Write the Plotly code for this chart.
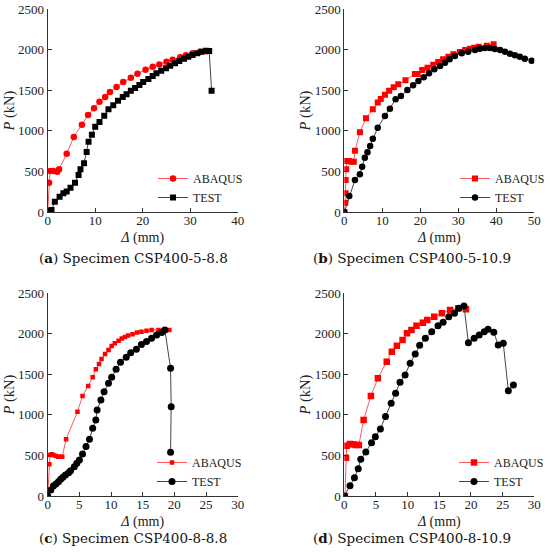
import plotly.graph_objects as go

# (a) Specimen CSP400-5-8.8
a_fem_x = [0, 0.28, 0.5, 1.2, 2.0, 2.4, 4.0, 5.5, 7.2, 8.5, 9.75, 10.9, 12.1, 13.1, 14.5, 15.9,
           17.5, 18.9, 20.6, 22.1, 23.5, 25.0, 26.3, 27.9, 29.1, 30.5, 32.1, 33.5]
a_fem_y = [0, 361, 505, 505, 497, 525, 718, 924, 1076, 1195, 1277, 1359, 1416, 1478, 1539, 1601,
           1654, 1704, 1753, 1790, 1818, 1851, 1876, 1905, 1929, 1954, 1974, 1980]
a_test_x = [0, 0.5, 0.8, 1.5, 2.5, 3.3, 4.0, 4.8, 5.75, 6.5, 6.9, 7.65, 8.2, 8.6, 9.3, 10.0, 10.9,
            11.9, 12.8, 13.8, 14.8, 15.8, 16.6, 17.5, 18.4, 19.3, 20.1, 21.2, 22.1, 22.9, 23.9,
            24.9, 25.8, 26.8, 27.7, 28.7, 29.6, 30.5, 31.5, 32.4, 33.3, 34.0, 34.5]
a_test_y = [0, 16, 25, 127, 189, 230, 254, 300, 361, 456, 525, 600, 739, 866, 952, 1051, 1108,
            1186, 1264, 1314, 1371, 1416, 1449, 1494, 1527, 1564, 1601, 1638, 1675, 1708, 1741,
            1770, 1802, 1831, 1860, 1888, 1913, 1933, 1954, 1974, 1987, 1983, 1494]

# (b) Specimen CSP400-5-10.9
b_fem_x = [0, 0.26, 0.35, 0.35, 0.5, 0.6, 1.2, 1.9, 2.5, 2.8, 4.1, 5.7, 7.5, 8.8, 9.6, 10.7,
           11.8, 13.0, 14.2, 16.1, 18.6, 19.3, 20.5, 21.9, 23.4, 24.7, 26.0, 27.4, 28.7, 30.4,
           31.8, 33.1, 34.2, 35.4, 37.5, 39.3]
b_fem_y = [0, 115, 230, 394, 525, 628, 628, 620, 620, 755, 981, 1154, 1264, 1347, 1392, 1445,
           1494, 1535, 1572, 1622, 1700, 1700, 1749, 1777, 1814, 1847, 1880, 1913, 1942, 1970,
           1995, 2011, 2024, 2036, 2048, 2065]
b_test_x = [0, 1.3, 2.8, 4.1, 4.7, 5.4, 6.1, 6.8, 7.5, 8.8, 10.7, 12.0, 13.5, 14.9, 16.6, 18.1,
            19.5, 20.9, 22.3, 23.7, 25.2, 26.5, 27.7, 29.1, 30.9, 32.6, 34.4, 35.7, 37.0, 38.3,
            39.6, 41.0, 42.3, 43.6, 44.9, 46.2, 47.5, 49.3]
b_test_y = [0, 197, 394, 464, 558, 669, 735, 813, 903, 1039, 1182, 1273, 1388, 1429, 1502, 1560,
            1613, 1658, 1708, 1757, 1798, 1839, 1880, 1921, 1954, 1974, 1995, 2011, 2020, 2020,
            2007, 1995, 1974, 1950, 1929, 1913, 1888, 1864]

# (c) Specimen CSP400-8-8.8
c_fem_x = [0, 0.26, 0.37, 0.63, 0.9, 1.3, 1.7, 2.1, 2.3, 2.9, 4.7, 5.5, 6.4, 7.1, 7.6, 8.1, 8.5,
           9.05, 9.6, 10.1, 10.6, 11.2, 11.7, 12.2, 12.7, 13.4, 14.1, 14.8, 15.6, 16.4, 17.5,
           18.3, 19.2]
c_fem_y = [0, 391, 506, 514, 506, 493, 485, 485, 485, 699, 1040, 1234, 1357, 1464, 1562, 1628,
           1690, 1752, 1801, 1850, 1883, 1916, 1941, 1961, 1978, 1994, 2015, 2027, 2039, 2048,
           2048, 2048, 2048]
c_test_x = [0, 0.5, 0.9, 1.3, 1.7, 2.05, 2.4, 2.8, 3.3, 3.6, 4.2, 4.6, 5.0, 5.5, 6.05, 6.6, 7.1,
            7.6, 7.8, 8.4, 8.9, 9.6, 10.1, 10.8, 11.5, 12.4, 13.1, 14.0, 14.8, 15.6, 16.4, 17.2,
            18.0, 18.5, 19.4, 19.5, 19.4]
c_test_y = [0, 74, 123, 148, 177, 206, 230, 259, 288, 312, 362, 403, 444, 518, 609, 699, 835,
            938, 1061, 1184, 1287, 1390, 1464, 1562, 1649, 1711, 1768, 1809, 1867, 1904, 1945,
            1986, 2015, 2048, 1575, 1102, 539]

# (d) Specimen CSP400-8-10.9
d_fem_x = [0.1, 0.26, 0.37, 0.9, 1.4, 1.8, 2.3, 3.05, 4.2, 5.3, 6.7, 7.5, 8.3, 9.2, 9.9, 10.6,
           11.4, 12.4, 13.1, 14.2, 15.4, 16.7, 18.0, 19.2]
d_fem_y = [0, 473, 621, 641, 637, 629, 629, 937, 1234, 1451, 1657, 1780, 1854, 1924, 2007, 2048,
           2101, 2138, 2171, 2212, 2253, 2294, 2315, 2303]
d_test_x = [0, 0.9, 1.6, 2.2, 2.6, 3.4, 4.3, 4.9, 5.7, 6.5, 7.4, 8.1, 8.8, 9.6, 10.4, 11.2, 11.9,
            12.8, 13.8, 14.8, 15.6, 16.5, 17.4, 18.1, 18.9, 19.6, 20.5, 21.3, 22.1, 22.7, 23.6,
            24.3, 25.1, 25.9, 26.7]
d_test_y = [0, 127, 226, 337, 452, 543, 658, 732, 827, 979, 1143, 1266, 1402, 1493, 1637, 1752,
            1859, 1945, 2027, 2101, 2142, 2212, 2253, 2315, 2344, 1891, 1945, 1986, 2027, 2056,
            2019, 1862, 1883, 1299, 1369]

captions = ['(<b>a</b>) Specimen CSP400-5-8.8', '(<b>b</b>) Specimen CSP400-5-10.9',
            '(<b>c</b>) Specimen CSP400-8-8.8', '(<b>d</b>) Specimen CSP400-8-10.9']

W, H = 550, 559
SERIF = 'Liberation Serif'


def px(x):
    return x / W


def py(y):
    return 1 - y / H


panels = [
    dict(fem=(a_fem_x, a_fem_y), test=(a_test_x, a_test_y), xr=[0, 40], dx=10,
         xpx=(47.7, 237.7), ypx=(9, 212), fsym='circle', fsize=6.5, tsym='square', tsize=6,
         leg=(153, 164), cap=(133, 258)),
    dict(fem=(b_fem_x, b_fem_y), test=(b_test_x, b_test_y), xr=[0, 50], dx=10,
         xpx=(344.3, 534.3), ypx=(9, 212), fsym='square', fsize=6, tsym='circle', tsize=6.5,
         leg=(455, 164), cap=(412, 258)),
    dict(fem=(c_fem_x, c_fem_y), test=(c_test_x, c_test_y), xr=[0, 30], dx=5,
         xpx=(47.7, 237.7), ypx=(293.3, 496), fsym='square', fsize=4.5, tsym='circle', tsize=7,
         leg=(152, 448), cap=(133, 538)),
    dict(fem=(d_fem_x, d_fem_y), test=(d_test_x, d_test_y), xr=[0, 30], dx=5,
         xpx=(344.3, 534.3), ypx=(293.3, 496), fsym='square', fsize=6.5, tsym='circle', tsize=7,
         leg=(454, 448), cap=(412, 538)),
]

fig = go.Figure()
layout = {}
annotations = []

for i, p in enumerate(panels):
    n = '' if i == 0 else str(i + 1)
    leg = 'legend' + n
    fig.add_trace(go.Scatter(x=p['fem'][0], y=p['fem'][1], mode='lines+markers', name='ABAQUS',
                             line=dict(color='#ff5a5a', width=1),
                             marker=dict(symbol=p['fsym'], size=p['fsize'], color='#ff0000'),
                             xaxis='x' + n, yaxis='y' + n, legend=leg))
    fig.add_trace(go.Scatter(x=p['test'][0], y=p['test'][1], mode='lines+markers', name='TEST',
                             line=dict(color='#444444', width=1),
                             marker=dict(symbol=p['tsym'], size=p['tsize'], color='#000000'),
                             xaxis='x' + n, yaxis='y' + n, legend=leg))

    x0, x1 = p['xpx']
    yt, yb = p['ypx']
    axis_common = dict(showgrid=False, zeroline=False, showline=True, linecolor='#333333',
                       linewidth=1, ticks='inside', ticklen=4, tickcolor='#333333',
                       automargin=False, ticklabeloverflow='allow',
                       tickfont=dict(family=SERIF, size=13, color='#222222'))
    layout['xaxis' + n] = dict(axis_common, domain=[px(x0), px(x1)], range=p['xr'], dtick=p['dx'],
                               anchor='y' + n, ticklabelstandoff=-4,
                               title=dict(text='<i>Δ</i> (mm)', standoff=5,
                                          font=dict(family=SERIF, size=14, color='#222222')))
    layout['yaxis' + n] = dict(axis_common, domain=[py(yb), py(yt)], range=[0, 2500],
                               dtick=500, anchor='x' + n,
                               title=dict(text='<i>P</i> (kN)', standoff=0,
                                          font=dict(family=SERIF, size=14.5, color='#222222')))
    layout[leg] = dict(x=px(p['leg'][0]), y=py(p['leg'][1]), xanchor='left', yanchor='top',
                       bgcolor='rgba(0,0,0,0)', tracegroupgap=0, itemwidth=30,
                       font=dict(family=SERIF, size=12, color='#222222'))
    annotations.append(dict(text=captions[i], xref='paper', yref='paper',
                            x=px(p['cap'][0]), y=py(p['cap'][1]),
                            showarrow=False, xanchor='center', yanchor='middle',
                            font=dict(family='DejaVu Serif', size=13.5, color='#111111')))

fig.update_layout(**layout)
fig.update_layout(width=W, height=H, margin=dict(l=0, r=0, t=0, b=0),
                  paper_bgcolor='white', plot_bgcolor='white', annotations=annotations)

# drop the default body margin so the 550x559 figure fills the window
fig.write_html("out.html", config={'displayModeBar': False},
               post_script="document.body.style.margin='0';document.body.style.overflow='hidden';")
